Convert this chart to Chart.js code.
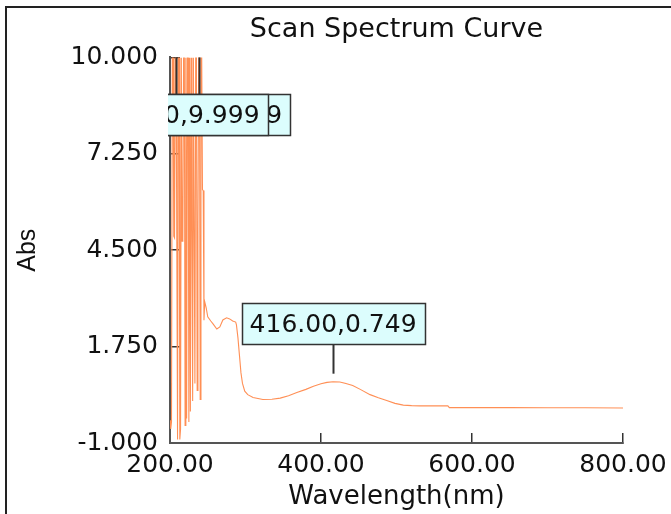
<!DOCTYPE html>
<html>
<head>
<meta charset="utf-8">
<title>Scan Spectrum Curve</title>
<script src="https://cdn.jsdelivr.net/npm/chart.js@4.4.1/dist/chart.umd.min.js"></script>
<style>
  html, body { margin: 0; padding: 0; background: #fff; overflow: hidden; }
  #wrap { position: relative; width: 671px; height: 514px; }
  #specChart { position: absolute; left: 0; top: 0; }
  /* outer window frame, only left and top edges are visible */
  #frame { position: absolute; left: 5px; top: 6px; width: 720px; height: 620px; border: 2px solid #222; pointer-events: none; }
</style>
</head>
<body>
<div id="wrap">
  <canvas id="specChart" width="671" height="514"></canvas>
  <div id="frame"></div>
</div>
<script>
// wavelength (nm) and absorbance
const wavelengths = [
  200, 201, 202, 203, 204, 205, 206, 207, 208, 209,
  210, 211, 212, 213, 214, 215, 216, 217, 218, 219,
  220, 221, 222, 223, 224, 225, 226, 227, 228, 229,
  230, 231, 232, 233, 234, 235, 236, 237, 238, 239,
  240, 241, 242, 243, 244, 245, 246,
  248, 250, 254, 257, 262, 266, 270, 275, 279, 283,
  287, 288, 290, 292, 294, 296, 299, 303, 310, 323,
  335, 346, 357, 368, 380, 390, 400, 408, 416, 425,
  433, 442, 452, 465, 476, 487, 498, 509, 520, 531,
  550, 568, 570, 600, 650, 700, 750, 800
];
const absorbance = [
  -0.35, -0.6, -0.4, 9.999, 9.999, 4.9, 4.85, 9.999, 9.999, 4.85,
  -0.9, 9.999, 9.999, -0.9, -0.6, 9.999, 4.76, 4.8, 9.999, 9.999,
  -0.5, 9.999, -0.3, 9.999, 9.999, -0.4, 9.999, -0.1, 9.999, 5.0,
  0.2, 9.999, 5.0, 0.7, 9.999, 9.999, 0.5, 5.13, 9.999, 9.999,
  0.24, 9.999, 9.999, 6.23, 6.2, 2.5, 3.03,
  2.85, 2.6, 2.48, 2.4, 2.25, 2.31, 2.51, 2.57, 2.54, 2.48,
  2.45, 2.37, 2.0, 1.5, 1.0, 0.7, 0.48, 0.38, 0.3, 0.24,
  0.25, 0.28, 0.35, 0.44, 0.53, 0.62, 0.69, 0.73, 0.749, 0.74,
  0.7, 0.64, 0.53, 0.38, 0.29, 0.21, 0.13, 0.08, 0.065, 0.06,
  0.06, 0.06, 0.01, 0.01, 0.01, 0.005, 0.005, 0.0
];
const xTickValues = [200, 400, 600, 800];
const yTickValues = [-1, 1.75, 4.5, 7.25, 10];
// peaks that carry a marker label (drawn in this order)
const peakWavelengths = [238, 208, 416];

const points = wavelengths.map((wl, i) => ({ x: wl, y: absorbance[i] }));

// keep the title centred over the plot area, not the whole canvas
const titleOverPlot = {
  id: "titleOverPlot",
  afterLayout(chart) {
    const t = chart.titleBlock;
    if (!t) return;
    t.left = chart.chartArea.left;
    t.right = chart.chartArea.right;
    t.width = t.right - t.left;
  },
};

// peak labels: boxed "wl,abs" with a short leader line
const peakLabels = {
  id: "peakLabels",
  afterDatasetsDraw(chart) {
    const ctx = chart.ctx;
    const area = chart.chartArea;
    const xs = chart.scales.x;
    const ys = chart.scales.y;
    ctx.save();
    ctx.beginPath();
    ctx.rect(area.left - 2, 0, chart.width, chart.height);
    ctx.clip();
    ctx.font = "25px 'DejaVu Sans'";
    ctx.textAlign = "center";
    ctx.textBaseline = "middle";
    peakWavelengths.forEach((wl) => {
      const i = wavelengths.indexOf(wl);
      if (i < 0) return;
      const val = absorbance[i];
      const text = wl.toFixed(2) + "," + val.toFixed(3);
      const px = xs.getPixelForValue(wl);
      const py = ys.getPixelForValue(val);
      const w = ctx.measureText(text).width + 16;
      const h = 41;
      let boxTop, y1, y2;
      if (py - 36 - h > area.top) {
        boxTop = py - 38 - h;
        y1 = py - 8;
        y2 = py - 38;
      } else {
        // no room above -> hang the label below the point
        boxTop = py + 37;
        y1 = py;
        y2 = boxTop;
      }
      ctx.strokeStyle = "#333";
      ctx.lineWidth = 2;
      ctx.beginPath();
      ctx.moveTo(Math.round(px) + 0.5, y1);
      ctx.lineTo(Math.round(px) + 0.5, y2);
      ctx.stroke();

      const bx = Math.round(px - w / 2) + 0.5;
      const by = Math.round(boxTop) + 0.5;
      ctx.fillStyle = "#dcfdfd";
      ctx.fillRect(bx, by, w, h);
      ctx.lineWidth = 1.5;
      ctx.strokeRect(bx, by, w, h);
      ctx.fillStyle = "#111";
      ctx.fillText(text, px, by + h / 2 + 1);
    });
    ctx.restore();
  },
};

const tickFont = { family: "DejaVu Sans", size: 25 };

new Chart(document.getElementById("specChart"), {
  type: "line",
  data: {
    datasets: [
      {
        label: "Abs",
        data: points,
        borderColor: "#ff8f55",
        borderWidth: 1.1,
        pointRadius: 0,
        tension: 0,
        fill: false,
      },
    ],
  },
  options: {
    responsive: false,
    animation: false,
    events: [],
    layout: { padding: { left: 0, right: 48, top: 0, bottom: 0 } },
    plugins: {
      legend: { display: false },
      tooltip: { enabled: false },
      title: {
        display: true,
        text: "Scan Spectrum Curve",
        color: "#111",
        font: { family: "DejaVu Sans", size: 27, weight: "normal" },
        padding: { top: 14, bottom: 11 },
      },
    },
    scales: {
      x: {
        type: "linear",
        min: 200,
        max: 800,
        afterBuildTicks: (s) => {
          s.ticks = xTickValues.map((v) => ({ value: v }));
        },
        afterFit: (s) => {
          s.height = 71;
          // let the layout padding decide the right edge, labels may overhang
          s.paddingLeft = 0;
          s.paddingRight = 0;
        },
        ticks: {
          callback: (v) => Number(v).toFixed(2),
          color: "#111",
          font: tickFont,
          padding: 17,
          maxRotation: 0,
          autoSkip: false,
        },
        grid: { drawOnChartArea: false, tickLength: -10, color: "#333", lineWidth: 1.5 },
        border: { color: "#555", width: 2 },
        title: {
          display: true,
          text: "Wavelength(nm)",
          color: "#111",
          font: { family: "DejaVu Sans", size: 26 },
          padding: { top: 0, bottom: 1 },
        },
      },
      y: {
        min: -1,
        max: 10,
        afterBuildTicks: (s) => {
          s.ticks = yTickValues.map((v) => ({ value: v }));
        },
        afterFit: (s) => {
          s.width = 170;
        },
        ticks: {
          callback: (v) => Number(v).toFixed(3),
          color: "#111",
          font: tickFont,
          padding: 22,
          autoSkip: false,
        },
        grid: { drawOnChartArea: false, tickLength: -10, color: "#333", lineWidth: 1.5 },
        border: { color: "#555", width: 2 },
        title: {
          display: true,
          text: "Abs",
          color: "#111",
          font: { family: "Liberation Sans", size: 25 },
          padding: { top: 13, bottom: 0 },
        },
      },
    },
  },
  plugins: [titleOverPlot, peakLabels],
});
</script>
</body>
</html>
